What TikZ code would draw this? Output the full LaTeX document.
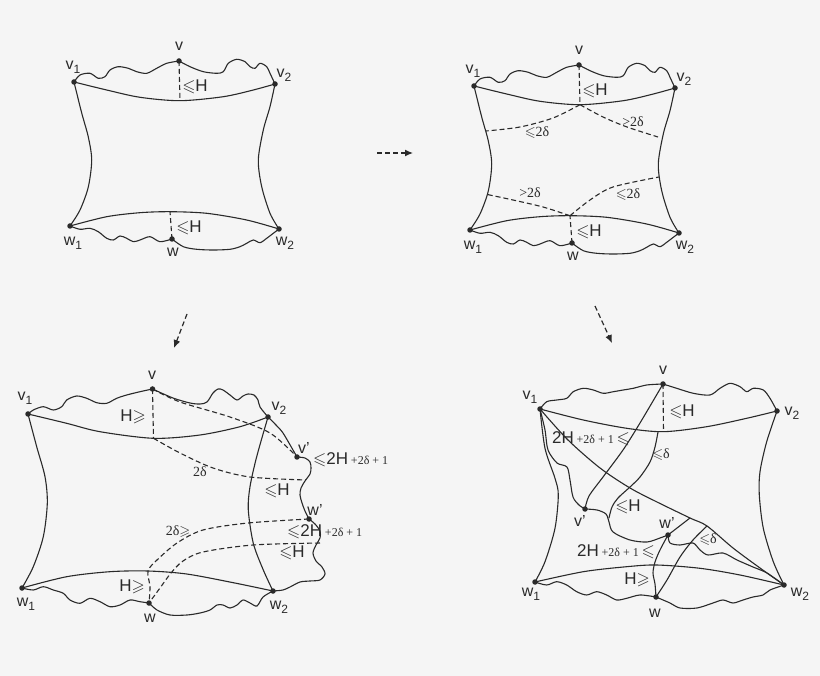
\documentclass[tikz,border=0pt]{standalone}
\usepackage{amssymb}
\usepackage{fontspec}
\setmainfont{Liberation Sans}
\newfontfamily\serif{Liberation Serif}
\usetikzlibrary{arrows.meta}
\definecolor{ink}{HTML}{2A2A2A}
\definecolor{bg}{HTML}{F5F5F5}
\newcommand\vsub[2]{#1\raisebox{-0.45ex}{\fontsize{12}{12}\selectfont #2}}
\newcommand\sm[1]{{\serif\fontsize{12}{14}\selectfont #1}}
\tikzset{
 line/.style={ink, line width=1.1pt, line join=round, line cap=round},
 dashln/.style={ink, line width=1.1pt, dash pattern=on 5pt off 3pt},
 dot/.style={circle, fill=ink, inner sep=0pt, minimum size=5.5pt},
 lab/.style={text=ink, font=\fontsize{16}{18}\selectfont, inner sep=0pt},
 hlab/.style={text=ink, font=\fontsize{17}{19}\selectfont, inner sep=0pt},
 dlab/.style={text=ink, font=\serif\fontsize{14}{16}\selectfont, inner sep=0pt},
 flow/.style={ink, line width=1.2pt, dash pattern=on 5pt off 3pt, -{Latex[length=8pt,width=7pt]}}
}
\newcommand\basepanel[1]{%
 \coordinate (#1t) at (180,100.7);
 \coordinate (#1b) at (170,211.7);
 \coordinate (#1pv1) at (74,82);
 \coordinate (#1pv) at (179,61);
 \coordinate (#1pv2) at (275,84);
 \coordinate (#1pw1) at (70,226);
 \coordinate (#1pw) at (172,239);
 \coordinate (#1pw2) at (279,229);
 \draw[line] plot[smooth] coordinates {(#1pv1) (106.7,90) (140,97.3) (#1t) (223.3,96.7) (253.3,90) (#1pv2)};
 \draw[line] plot[smooth] coordinates {(#1pw1) (106.7,216.7) (140,212.7) (#1b) (206.7,213.3) (246.7,220) (#1pw2)};
 \draw[line] plot[smooth] coordinates {(#1pv1) (81.7,113) (88.3,137) (91.7,160) (88.3,187) (80,210) (#1pw1)};
 \draw[line] plot[smooth] coordinates {(#1pv2) (270,106.7) (263.3,130) (258.3,160) (261.7,186.7) (270,213.3) (#1pw2)};
 \draw[line] plot[smooth] coordinates {(#1pv1) (80,75) (90,73.3) (98.3,78.3) (105,76.7) (110,70) (118.3,66.7) (128.3,68.3) (136.7,71.7) (146.7,73.3) (156.7,68.3) (166.7,63.3) (#1pv)};
 \draw[line] plot[smooth] coordinates {(#1pv) (190,66.7) (203.3,71.7) (216.7,73.3) (223.3,71.7) (228.3,63.3) (236.7,59.3) (245,61.7) (250,66.7) (255,68.3) (260,63.3) (266.7,66.7) (270,73.3) (#1pv2)};
 \draw[line] plot[smooth] coordinates {(#1pw1) (80,229.3) (90,228.3) (98.3,231.7) (106.7,238.3) (113.3,240) (120,236) (126.7,238.3) (133.3,241.7) (140,240) (150,236.7) (160,241.7) (#1pw)};
 \draw[line] plot[smooth] coordinates {(#1pw) (183.3,246.7) (196.7,249.3) (213.3,250) (230,249.3) (240,246.7) (246.7,243.3) (253.3,240) (260,242.7) (266.7,238.3) (273.3,233.3) (#1pw2)};
 \draw[dashln] (#1pv) -- (#1t);
 \draw[dashln] (#1pw) -- (#1b);
 \node[dot] (#1v1) at (#1pv1) {};
 \node[dot] (#1v) at (#1pv) {};
 \node[dot] (#1v2) at (#1pv2) {};
 \node[dot] (#1w1) at (#1pw1) {};
 \node[dot] (#1w) at (#1pw) {};
 \node[dot] (#1w2) at (#1pw2) {};
 \node[lab] (#1lv1) at (73,67) {\vsub{v}{1}};
 \node[lab] (#1lv) at (179,46) {v};
 \node[lab] (#1lv2) at (284,75) {\vsub{v}{2}};
 \node[lab] (#1lw1) at (73,243) {\vsub{w}{1}};
 \node[lab] (#1lw) at (173,252) {w};
 \node[lab] (#1lw2) at (285,243) {\vsub{w}{2}};
 \node[hlab] (#1h1) at (195,87) {$\leqslant$H};
 \node[hlab] (#1h2) at (189,228) {$\leqslant$H};
}
\begin{document}
\begin{tikzpicture}[x=1pt,y=-1pt]
\fill[bg] (0,0) rectangle (820,676);
\useasboundingbox (0,0) rectangle (820,676);

% Panel A (top left)
\basepanel{A}

% Panel B (top right)
\begin{scope}[shift={(400,4)}]
 \basepanel{B}
 \draw[dashln] plot[smooth] coordinates {(Bt) (153,114) (120,123) (86,127)};
 \draw[dashln] plot[smooth] coordinates {(Bt) (203,113) (227,123) (258,133)};
 \draw[dashln] plot[smooth] coordinates {(Bb) (143,203) (113,196) (85,190)};
 \draw[dashln] plot[smooth] coordinates {(Bb) (190,196) (213,183) (259,173)};
 \node[dlab] (Bd1) at (137,129) {$\leqslant$2δ};
 \node[dlab] (Bd2) at (233,118) {>2δ};
 \node[dlab] (Bd3) at (130,189) {>2δ};
 \node[dlab] (Bd4) at (228,191) {$\leqslant$2δ};
\end{scope}

% flow arrows
\coordinate (f1s) at (377,153); \coordinate (f1e) at (413,153);
\coordinate (f2s) at (187,314); \coordinate (f2e) at (174,348);
\coordinate (f3s) at (595,306); \coordinate (f3e) at (612,343);
\draw[flow] (f1s) -- (f1e);
\draw[flow] (f2s) -- (f2e);
\draw[flow] (f3s) -- (f3e);

% Panel C (bottom left)
\coordinate (Cv1) at (28,414); \coordinate (Cv) at (152.5,389); \coordinate (Cv2) at (268,417);
\coordinate (Cw1) at (22,588); \coordinate (Cw) at (149,603); \coordinate (Cw2) at (273,591);
\coordinate (Cvp) at (297,457); \coordinate (Cwp) at (309,519);
\coordinate (Ct) at (153.5,438.3); \coordinate (Cb) at (148,571);
\draw[line] plot[smooth] coordinates {(Cv1) (66.7,423.3) (100,431.7) (Ct) (200,435) (240,426.7) (Cv2)};
\draw[line] plot[smooth] coordinates {(Cv1) (36.7,446.7) (45,476.7) (47.3,503.3) (43.3,536.7) (33.3,566.7) (Cw1)};
\draw[line] plot[smooth] coordinates {(Cv2) (256.7,456.7) (250,486.7) (248.3,510) (253.3,543.3) (263.3,570) (Cw2)};
\draw[line] plot[smooth] coordinates {(Cw1) (66.7,576.7) (110,571.7) (Cb) (186.7,574) (233.3,582.7) (Cw2)};
\draw[line] plot[smooth] coordinates {(Cv1) (33.3,410) (43.3,406.7) (53.3,410) (61.7,406.7) (66.7,400) (76.7,396) (86.7,398.3) (96.7,402.7) (106.7,403.3) (116.7,398.3) (126.7,395) (140,391.7) (Cv)};
\draw[line] plot[smooth] coordinates {(Cv) (173,398) (190,403) (200,404) (207,402) (213,393) (218,389) (223,390) (230,395) (237,400) (243,396) (248,394) (254,395) (258,400) (260,407) (Cv2)};
\draw[line] plot[smooth] coordinates {(Cv2) (276,425) (283,433) (293,450) (Cvp)};
\draw[line] plot[smooth] coordinates {(Cvp) (305,458) (310,462) (311,468) (310,474) (305,481) (301,488) (300,495) (302,503) (305,511) (Cwp)};
\draw[line] plot[smooth] coordinates {(Cwp) (315,524) (320,531) (320,538) (316,545) (313,553) (316,561) (322,567) (325,574) (320,580) (310,581) (300,582) (290,587) (283,590) (Cw2)};
\draw[line] plot[smooth] coordinates {(Cw2) (263,597) (257,606) (250,603) (243,600) (237,605) (230,608) (223,605) (217,605) (210,610) (200,613) (187,615) (170,615) (157,610) (Cw)};
\draw[line] plot[smooth] coordinates {(Cw1) (33.3,590) (43.3,586.7) (53.3,590) (63.3,593.3) (70,600) (80,603.3) (90,598.3) (100,601.7) (110,606.7) (120,605) (130,600) (140,601.7) (Cw)};
\draw[dashln] (Cv) -- (Ct);
\draw[dashln] plot[smooth] coordinates {(Cv) (180,402) (230,417) (270,433) (Cvp)};
\draw[dashln] plot[smooth] coordinates {(Ct) (180,453) (213,468) (250,477) (306,480)};
\draw[dashln] plot[smooth] coordinates {(Cwp) (248,523) (203,530) (177,543) (157,560) (Cb) (150,587) (Cw)};
\draw[dashln] plot[smooth] coordinates {(320,543) (253,545) (203,552) (183,561) (171,573) (160,588) (Cw)};
\foreach \n in {Cv1,Cv,Cv2,Cw1,Cw,Cw2,Cvp,Cwp} \node[dot] (d\n) at (\n) {};
\node[lab] (Clv1) at (25,398) {\vsub{v}{1}};
\node[lab] (Clv) at (152,375) {v};
\node[lab] (Clv2) at (279,408) {\vsub{v}{2}};
\node[lab] (Clvp) at (304,448) {v'};
\node[lab] (Clwp) at (315,510) {w'};
\node[lab] (Clw1) at (26,604) {\vsub{w}{1}};
\node[lab] (Clw) at (150,618) {w};
\node[lab] (Clw2) at (279,607) {\vsub{w}{2}};
\node[hlab] (Ch1) at (133,417) {H$\geqslant$};
\node[dlab] (Cd1) at (200,472) {2δ};
\node[hlab,anchor=west] (Cq1) at (313,460) {$\leqslant$2H\,\sm{+2δ + 1}};
\node[hlab] (Ch2) at (277,491) {$\leqslant$H};
\node[dlab] (Cd2) at (178,532) {2δ$\geqslant$};
\node[hlab,anchor=west] (Cq2) at (287,532) {$\leqslant$2H\,\sm{+2δ + 1}};
\node[hlab] (Ch3) at (292,553) {$\leqslant$H};
\node[hlab] (Ch4) at (132,587) {H$\geqslant$};

% Panel D (bottom right)
\coordinate (Dv1) at (540,409); \coordinate (Dv) at (663,384); \coordinate (Dv2) at (777,411);
\coordinate (Dw1) at (535,582); \coordinate (Dw) at (656,597); \coordinate (Dw2) at (784,585);
\coordinate (Dvp) at (585,509); \coordinate (Dwp) at (668,535);
\coordinate (Dt) at (663.5,431.7);
\coordinate (Dx1) at (690,518); \coordinate (Dx2) at (707,526);
\draw[line] plot[smooth] coordinates {(Dv1) (583.3,420) (626.7,428.3) (Dt) (706.7,426.7) (746.7,418.3) (Dv2)};
\draw[line] plot[smooth] coordinates {(Dv1) (545,448.3) (555,478.3) (558.3,495) (555,528.3) (545,561.7) (Dw1)};
\draw[line] plot[smooth] coordinates {(Dv2) (766.7,441.7) (760,471.7) (759.3,495) (763.3,528.3) (773.3,561.7) (Dw2)};
\draw[line] plot[smooth] coordinates {(Dw1) (583.3,571.7) (626.7,566.7) (656.7,565) (700,568.3) (740,575) (Dw2)};
\draw[line] plot[smooth] coordinates {(Dv1) (546.7,401.7) (556.7,400) (566.7,398.3) (573.3,391.7) (583.3,388.3) (593.3,390) (603.3,393.3) (613.3,391.7) (623.3,390) (633.3,388.3) (646.7,385) (Dv)};
\draw[line] plot[smooth] coordinates {(Dv) (676.7,388.3) (693.3,393.3) (710,395) (720,388.3) (730,383.3) (740,386.7) (746.7,391.7) (753.3,388.3) (763.3,390) (770,398.3) (Dv2)};
\draw[line] plot[smooth] coordinates {(Dw1) (546.7,585) (556.7,581.7) (566.7,585) (576.7,591.7) (586.7,595) (596.7,591.7) (606.7,595) (616.7,600) (626.7,598.3) (640,595) (Dw)};
\draw[line] plot[smooth] coordinates {(Dw) (670,603) (680,608) (697,608) (713,603) (723,600) (733,603) (743,600) (753,597) (763,595) (770,590) (Dw2)};
% quasi-geodesic v1 -> v' -> w' -> w2
\draw[line] plot[smooth] coordinates {(Dv1) (545,430) (548,450) (557,463) (567,467) (570,480) (573,497) (579,505) (Dvp)};
\draw[line] plot[smooth] coordinates {(Dvp) (597,510) (606,514) (609,522) (613,532) (630,540) (647,542) (660,538) (Dwp)};
\draw[line] plot[smooth] coordinates {(Dwp) (670,543) (680,545) (693,543) (700,550) (708,555) (723,553) (737,560) (753,567) (767,573) (Dw2)};
% diagonal v1 -> w2
\draw[line] plot[smooth] coordinates {(Dv1) (568,440) (600,468) (630,488) (657,502) (Dx1) (Dx2) (733,548) (760,568) (Dw2)};
\draw[line] plot[smooth] coordinates {(Dv) (640,423) (623,450) (603,477) (589,496) (Dvp)};
\draw[line] plot[smooth] coordinates {(658,432) (655,447) (650,462) (640,477) (630,487) (618,498) (612,507) (609,518)};
\draw[line] (Dwp) -- (Dx1);
\draw[line] plot[smooth] coordinates {(Dx2) (693,540) (680,557) (667,580) (Dw)};
\draw[line] plot[smooth] coordinates {(Dwp) (660,550) (655,562) (653,573) (655,584) (Dw)};
\draw[dashln] (Dv) -- (Dt);
\foreach \n in {Dv1,Dv,Dv2,Dw1,Dw,Dw2,Dvp,Dwp} \node[dot] (d\n) at (\n) {};
\node[lab] (Dlv1) at (530,397) {\vsub{v}{1}};
\node[lab] (Dlv) at (663,370) {v};
\node[lab] (Dlv2) at (792,413) {\vsub{v}{2}};
\node[lab] (Dlvp) at (580,521) {v'};
\node[lab] (Dlwp) at (667,523) {w'};
\node[lab] (Dlw1) at (531,594) {\vsub{w}{1}};
\node[lab] (Dlw) at (655,613) {w};
\node[lab] (Dlw2) at (800,594) {\vsub{w}{2}};
\node[hlab] (Dh1) at (682,412) {$\leqslant$H};
\node[hlab] (Dq1) at (591,439) {2H\,\sm{+2δ + 1}\,$\leqslant$};
\node[dlab] (Dd1) at (661,455) {$\leqslant$δ};
\node[hlab] (Dh2) at (628,507) {$\leqslant$H};
\node[dlab] (Dd2) at (708,540) {$\leqslant$δ};
\node[hlab] (Dq2) at (616,552) {2H\,\sm{+2δ + 1}\,$\leqslant$};
\node[hlab] (Dh3) at (637,580) {H$\geqslant$};
\end{tikzpicture}
\end{document}
